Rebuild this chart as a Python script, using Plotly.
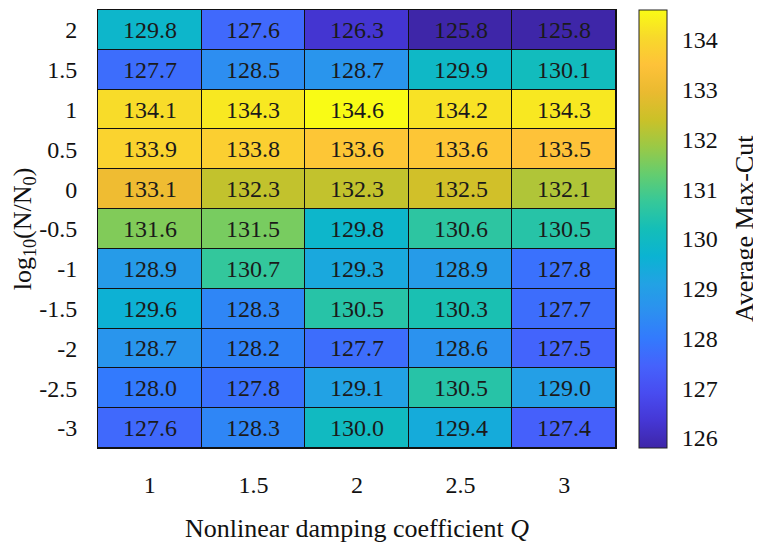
import plotly.graph_objects as go

q_labels = ["1", "1.5", "2", "2.5", "3"]
n_labels = ["2", "1.5", "1", "0.5", "0", "-0.5", "-1", "-1.5", "-2", "-2.5", "-3"]

row_2 = [129.8, 127.6, 126.3, 125.8, 125.8]
row_1p5 = [127.7, 128.5, 128.7, 129.9, 130.1]
row_1 = [134.1, 134.3, 134.6, 134.2, 134.3]
row_0p5 = [133.9, 133.8, 133.6, 133.6, 133.5]
row_0 = [133.1, 132.3, 132.3, 132.5, 132.1]
row_m0p5 = [131.6, 131.5, 129.8, 130.6, 130.5]
row_m1 = [128.9, 130.7, 129.3, 128.9, 127.8]
row_m1p5 = [129.6, 128.3, 130.5, 130.3, 127.7]
row_m2 = [128.7, 128.2, 127.7, 128.6, 127.5]
row_m2p5 = [128.0, 127.8, 129.1, 130.5, 129.0]
row_m3 = [127.6, 128.3, 130.0, 129.4, 127.4]

z = [row_2, row_1p5, row_1, row_0p5, row_0, row_m0p5, row_m1, row_m1p5, row_m2, row_m2p5, row_m3]
cb_ticks = [126, 127, 128, 129, 130, 131, 132, 133, 134]

parula = [
    (0.2422, 0.1504, 0.6603), (0.2704, 0.2138, 0.8346), (0.2813, 0.2985, 0.9397),
    (0.2710, 0.3860, 0.9898), (0.2006, 0.4803, 0.9906), (0.1716, 0.5655, 0.9393),
    (0.1321, 0.6363, 0.8932), (0.0433, 0.7039, 0.8242), (0.0770, 0.7468, 0.7224),
    (0.2118, 0.7828, 0.5983), (0.3921, 0.8029, 0.4344), (0.6024, 0.7896, 0.2726),
    (0.7945, 0.7554, 0.1570), (0.9184, 0.7308, 0.1890), (0.9971, 0.7626, 0.2224),
    (0.9720, 0.8529, 0.1695), (0.9769, 0.9839, 0.0805),
]
n = len(parula)
colorscale = [[i / (n - 1), "rgb(%d,%d,%d)" % tuple(round(c * 255) for c in rgb)] for i, rgb in enumerate(parula)]

flat = [v for r in z for v in r]
zmin, zmax = min(flat), max(flat)

FONT = "Liberation Serif"
# page body has an 8px default margin; figure is sized/positioned to compensate
W, H = 753, 535
L, R, T, B = 90, 145, 2, 95
PW = W - L - R

fig = go.Figure(go.Heatmap(
    z=z, x=q_labels, y=n_labels,
    colorscale=colorscale, zmin=zmin, zmax=zmax,
    xgap=1, ygap=1,
    texttemplate="%{z:.1f}",
    textfont=dict(family=FONT, size=24, color="#1a1a1a"),
    hoverinfo="skip",
    colorbar=dict(
        x=1.025, xanchor="left", y=0.5, yanchor="middle", len=1, lenmode="fraction",
        ypad=0, thickness=28, outlinecolor="#222", outlinewidth=1,
        tickvals=cb_ticks, ticks="outside", ticklen=10, tickcolor="rgba(0,0,0,0)",
        tickfont=dict(family=FONT, size=24, color="#111"),
    ),
))

fig.add_annotation(
    text="Average Max-Cut", textangle=-90,
    xref="paper", yref="paper", x=(736 - L) / PW, y=0.5,
    xanchor="center", yanchor="middle", showarrow=False,
    font=dict(family=FONT, size=26, color="#111"),
)

fig.update_layout(
    width=W, height=H,
    margin=dict(l=L, r=R, t=T, b=B, autoexpand=False),
    plot_bgcolor="#111", paper_bgcolor="white",
    font=dict(family=FONT, color="#111"),
)
fig.update_xaxes(
    type="category", showgrid=False, zeroline=False, automargin=False,
    showline=True, mirror=True, linecolor="#111", linewidth=1,
    ticks="", ticklabelstandoff=15,
    tickfont=dict(family=FONT, size=24, color="#111"),
    title=dict(text="Nonlinear damping coefficient <i>Q</i>", font=dict(family=FONT, size=26, color="#111"), standoff=22),
)
fig.update_yaxes(
    type="category", autorange="reversed", showgrid=False, zeroline=False, automargin=False,
    showline=True, mirror=True, linecolor="#111", linewidth=1,
    ticks="", ticklabelstandoff=15,
    tickfont=dict(family=FONT, size=24, color="#111"),
    title=dict(text="log<sub>10</sub>(N/N<sub>0</sub>)", font=dict(family=FONT, size=26, color="#111"), standoff=5),
)

fig.write_html("out.html")
